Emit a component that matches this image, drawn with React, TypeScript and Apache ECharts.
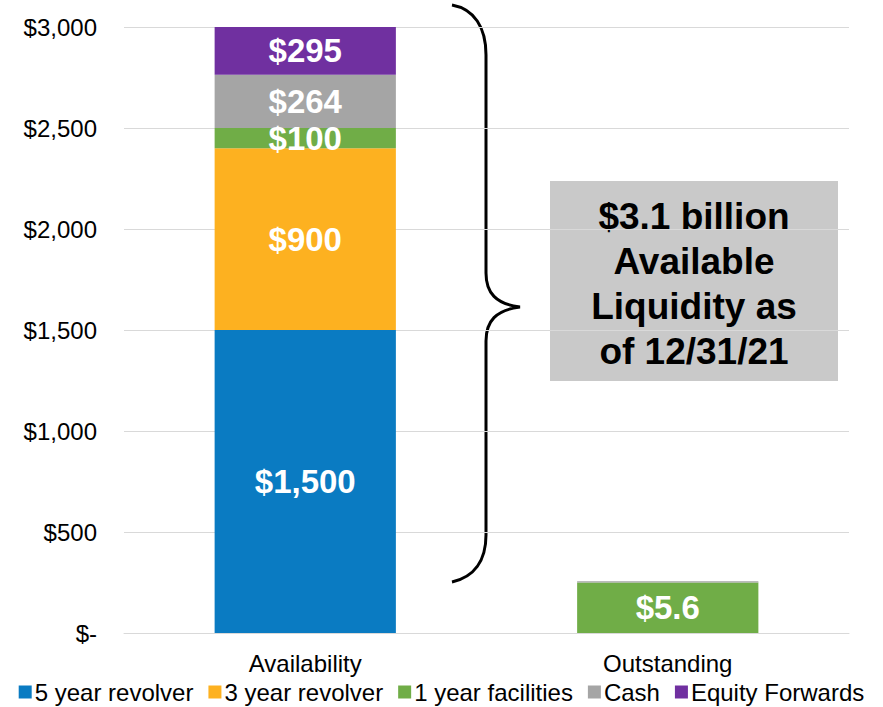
import React, { useEffect, useRef } from "react";
import * as echarts from "echarts";

const categories = ["Availability", "Outstanding"];
const seriesNames = ["5 year revolver", "3 year revolver", "1 year facilities", "Cash", "Equity Forwards"];
const fiveYear = [1500, 0];
const threeYear = [900, 0];
const oneYear = [100, 250];
const cash = [264, 5.6];
const equity = [295, 0];
const oneYearLabels = ["$100", "$5.6"];
const calloutText = "$3.1 billion\nAvailable\nLiquidity as\nof 12/31/21";

const colors = ["#0a7bc2", "#fdb120", "#70ad47", "#a5a5a5", "#7030a0"];
const FONT = "Liberation Sans, Arial, sans-serif";

const braceD =
  "M0,0 C22,4 34,22 34,50 L34,268 C34,288 44,299 68,302 C44,305 34,316 34,336 L34,530 C34,556 22,572 0,577";

let registered = false;

export default function App() {
  const ref = useRef<HTMLDivElement>(null);
  useEffect(() => {
    if (!ref.current) return;
    if (!registered) {
      echarts.graphic.registerShape("brace", echarts.graphic.extendPath(braceD, {}) as any);
      registered = true;
    }
    const chart = echarts.init(ref.current, null, { renderer: "svg" });
    const fmt = (v: number) => "$" + v.toLocaleString("en-US");
    const labelBase = {
      show: true,
      position: "inside",
      color: "#ffffff",
      fontFamily: FONT,
      fontWeight: "bold",
      fontSize: 33,
    };
    const datasets = [fiveYear, threeYear, oneYear, cash, equity];
    const series = datasets.map((arr, si) => ({
      name: seriesNames[si],
      type: "bar",
      stack: "total",
      barWidth: "50%",
      itemStyle: { color: colors[si] },
      data: arr.map((v, ci) => {
        let show = v > 0;
        let formatter: any = fmt(v);
        if (si === 2) formatter = oneYearLabels[ci];
        if (si === 3 && ci === 1) show = false;
        return { value: v, label: { ...labelBase, show, formatter } };
      }),
    }));
    chart.setOption({
      animation: false,
      textStyle: { fontFamily: FONT },
      grid: { left: 124, right: 34, top: 27, bottom: 74 },
      xAxis: {
        type: "category",
        data: categories,
        axisLine: { show: true, lineStyle: { color: "#d9d9d9", width: 1 } },
        axisTick: { show: false },
        axisLabel: { color: "#000", fontSize: 24, fontFamily: FONT, margin: 18 },
      },
      yAxis: {
        type: "value",
        min: 0,
        max: 3000,
        interval: 500,
        axisLine: { show: false },
        axisTick: { show: false },
        splitLine: { lineStyle: { color: "#d9d9d9", width: 1 } },
        axisLabel: {
          color: "#000",
          fontSize: 24,
          fontFamily: FONT,
          margin: 27,
          formatter: (v: number) => (v === 0 ? "$-" : fmt(v)),
        },
      },
      legend: {
        bottom: -2,
        left: "center",
        itemWidth: 13,
        itemHeight: 13,
        itemGap: 15,
        icon: "rect",
        textStyle: { color: "#000", fontSize: 24, fontFamily: FONT, padding: [0, 0, 0, -2] },
        data: seriesNames,
      },
      series,
      graphic: [
        {
          type: "brace",
          x: 452,
          y: 5,
          shape: {},
          style: { fill: "none", stroke: "#000", lineWidth: 3 },
        },
        {
          type: "rect",
          shape: { x: 550, y: 181, width: 288, height: 200 },
          style: { fill: "#c9c9c9" },
        },
        {
          type: "text",
          x: 694,
          y: 284,
          style: {
            text: calloutText,
            fill: "#000",
            font: "bold 37px " + FONT,
            lineHeight: 45,
            align: "center",
            verticalAlign: "middle",
          },
        },
      ],
    });
    return () => chart.dispose();
  }, []);
  return <div ref={ref} style={{ width: 883, height: 707, position: "absolute", left: 0, top: 0 }} />;
}
